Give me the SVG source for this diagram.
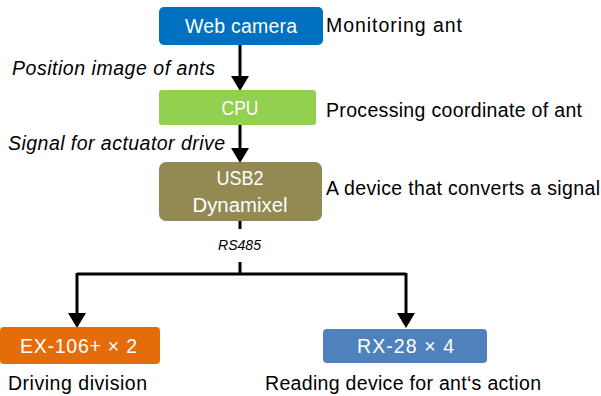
<svg xmlns="http://www.w3.org/2000/svg" width="601" height="396" viewBox="0 0 601 396">
<style>
text{font-family:"Liberation Sans",Arial,sans-serif;}
.lbl{font-size:19.5px;fill:#000;}
.it{font-style:italic;}
.nt{font-size:19.5px;fill:#fff;text-anchor:middle;}
.ln{fill:none;stroke:#000;stroke-width:3;}
</style>
<defs>
<marker id="ah" markerWidth="6" markerHeight="6" refX="4" refY="3" orient="auto" markerUnits="strokeWidth">
<path d="M0,0 L5,3 L0,6 z" fill="#000"/>
</marker>
</defs>
<rect width="601" height="396" fill="#fff"/>
<g id="connectors">
<path class="ln" d="M240,45 V88" marker-end="url(#ah)"/>
<path class="ln" d="M240,125 V160" marker-end="url(#ah)"/>
<path class="ln" d="M240,221 V229"/>
<path class="ln" d="M240,262 V274"/>
<path class="ln" d="M77,274 H406"/>
<path class="ln" d="M77,273 V325" marker-end="url(#ah)"/>
<path class="ln" d="M406,273 V325" marker-end="url(#ah)"/>
<text x="239.5" y="250" font-size="14" class="it" text-anchor="middle" textLength="43" lengthAdjust="spacingAndGlyphs">RS485</text>
<text x="12" y="75" class="lbl it" textLength="203">Position image of ants</text>
<text x="8" y="150" class="lbl it" textLength="217">Signal for actuator drive</text>
</g>
<g id="webcam">
<rect x="159" y="7" width="164" height="38" rx="5" fill="#0070C0"/>
<text x="241" y="33" class="nt" textLength="112">Web camera</text>
<text x="326" y="32" class="lbl" textLength="136">Monitoring ant</text>
</g>
<g id="cpu">
<rect x="159" y="90" width="157" height="35" rx="3" fill="#92D050"/>
<text x="240" y="115" class="nt" textLength="37" lengthAdjust="spacingAndGlyphs">CPU</text>
<text x="326" y="117" class="lbl" textLength="256">Processing coordinate of ant</text>
</g>
<g id="usb2">
<rect x="159" y="162" width="163" height="59" rx="7" fill="#938953"/>
<text x="240" y="185" class="nt" textLength="47" lengthAdjust="spacingAndGlyphs">USB2</text>
<text x="240" y="212" class="nt" textLength="95" lengthAdjust="spacingAndGlyphs">Dynamixel</text>
<text x="326" y="195" class="lbl" textLength="274">A device that converts a signal</text>
</g>
<g id="ex106">
<rect x="0" y="327" width="160" height="37" rx="4" fill="#E46C0A"/>
<text x="78.5" y="353" class="nt" textLength="117">EX-106+ × 2</text>
<text x="8" y="390" class="lbl" textLength="139">Driving division</text>
</g>
<g id="rx28">
<rect x="323" y="329" width="164" height="34" rx="4" fill="#4F81BD"/>
<text x="405.5" y="353" class="nt" textLength="97">RX-28 × 4</text>
<text x="265" y="390" class="lbl" textLength="276">Reading device for ant‘s action</text>
</g>
</svg>
